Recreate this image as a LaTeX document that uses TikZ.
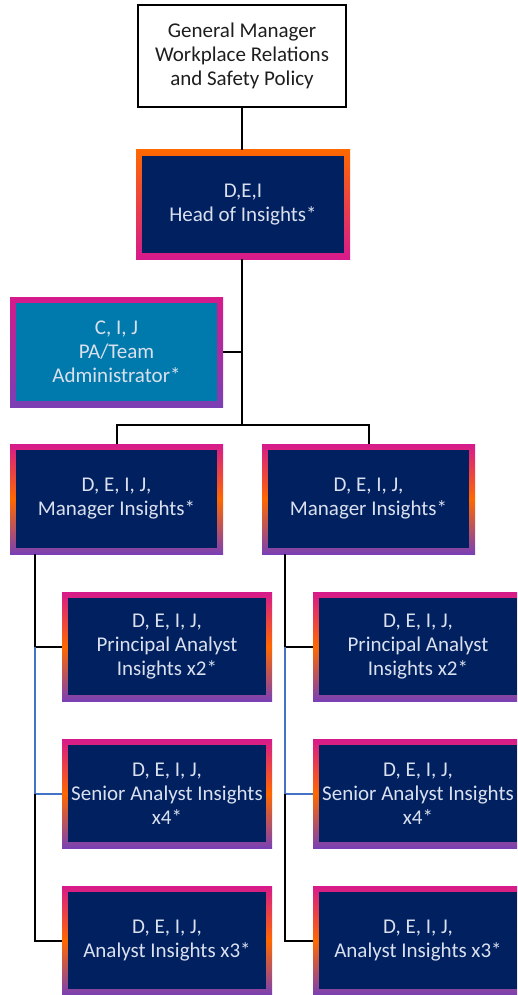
\documentclass[tikz,border=0pt]{standalone}
\usepackage{fontspec}
\setmainfont{Carlito}
\begin{document}
\definecolor{navy}{RGB}{0,32,96}
\definecolor{teal}{RGB}{0,122,172}
\definecolor{orng}{RGB}{255,104,0}
\definecolor{pnk}{RGB}{214,26,140}
\definecolor{prpl}{RGB}{122,64,180}
\definecolor{txtlight}{RGB}{218,224,238}
\definecolor{linkblue}{RGB}{68,114,196}
\begin{tikzpicture}[x=1pt,y=-1pt,
  font=\fontsize{21}{24}\selectfont,
  box/.style={rectangle, inner sep=0pt, outer sep=0pt, align=center,
    minimum width=#1, text=txtlight},
  inner/.style={path picture={
    \fill[#1] ([shift={(6pt,6pt)}]path picture bounding box.south west)
      rectangle ([shift={(-6pt,-6pt)}]path picture bounding box.north east);}},
  headbox/.style={box=214pt, minimum height=109pt,
    top color=orng, bottom color=pnk, inner=navy},
  pabox/.style={box=213pt, minimum height=110pt,
    top color=pnk, bottom color=prpl, inner=teal},
  mgrbox/.style={box=213pt, minimum height=110pt,
    top color=pnk, bottom color=prpl, middle color=orng, inner=navy},
  staffbox/.style={box=210pt, minimum height=109pt,
    top color=pnk, bottom color=prpl, middle color=orng, inner=navy},
  link/.style={draw=black, line width=2pt},
  bluelink/.style={draw=linkblue, line width=2pt}]
\useasboundingbox (0,0) rectangle (517,995);
\clip (0,0) rectangle (517,995);

% top of the structure
\node[rectangle, draw=black, line width=2pt, minimum width=208pt,
  minimum height=102pt, align=center, text={rgb,255:red,30;green,30;blue,30}]
  (gm) at (242,56) {General Manager\\Workplace Relations\\and Safety Policy};
\node[headbox] (head) at (243,204.5) {D,E,I\\Head of Insights*};
\node[pabox] (pa) at (116.5,352) {C, I, J\\PA/Team\\Administrator*};

% managers
\node[mgrbox] (mgrL) at (116.5,499) {D, E, I, J,\\Manager Insights*};
\node[mgrbox] (mgrR) at (368.5,499) {D, E, I, J,\\Manager Insights*};

% teams
\node[staffbox] (prinL) at (167,646.5) {D, E, I, J,\\Principal Analyst\\Insights x2*};
\node[staffbox] (prinR) at (418,646.5) {D, E, I, J,\\Principal Analyst\\Insights x2*};
\node[staffbox] (senL) at (167,793.5) {D, E, I, J,\\Senior Analyst Insights\\x4*};
\node[staffbox] (senR) at (418,793.5) {D, E, I, J,\\Senior Analyst Insights\\x4*};
\node[staffbox] (anL) at (167,940.5) {D, E, I, J,\\Analyst Insights x3*};
\node[staffbox] (anR) at (418,940.5) {D, E, I, J,\\Analyst Insights x3*};

% reporting lines
\coordinate (trunk) at (242,0);
\coordinate (bar) at (0,425);
\coordinate (spL) at (35,0);
\coordinate (spR) at (285,0);

\draw[link] (gm.south -| trunk) -- (trunk |- head.north);
\draw[link] (trunk |- head.south) -- (trunk |- bar);
\draw[link] (pa.east) -- (trunk |- pa.east);
\draw[link] (mgrL.north) -- (mgrL.north |- bar) -- (mgrR.north |- bar) -- (mgrR.north);

\foreach \s/\m/\p/\q/\a in {spL/mgrL/prinL/senL/anL, spR/mgrR/prinR/senR/anR}{
  \draw[link] (\s |- \m.south) -- (\s |- \p.west) -- (\p.west);
  \draw[bluelink] (\s |- \p.west) -- (\s |- \q.west) -- (\q.west);
  \draw[link] (\s |- \q.west) -- (\s |- \a.west) -- (\a.west);
}
\end{tikzpicture}
\end{document}
